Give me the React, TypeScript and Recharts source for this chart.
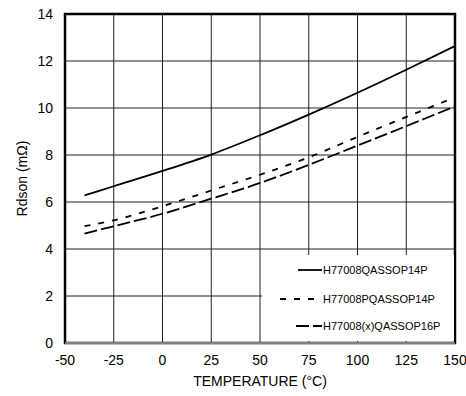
import { LineChart, Line, XAxis, YAxis, CartesianGrid, ReferenceArea, Legend } from 'recharts';

const temps = [-40, -25, 0, 25, 50, 75, 100, 125, 150];
const qassop14 = [6.28, 6.67, 7.32, 8.02, 8.84, 9.72, 10.65, 11.63, 12.64];
const pqassop14 = [4.97, 5.22, 5.82, 6.49, 7.16, 7.9, 8.77, 9.62, 10.45];
const xqassop16 = [4.65, 4.97, 5.5, 6.14, 6.81, 7.58, 8.4, 9.23, 10.07];

const xTicks = [-50, -25, 0, 25, 50, 75, 100, 125, 150];
const yTicks = [0, 2, 4, 6, 8, 10, 12, 14];

const seriesNames = ['H77008QASSOP14P', 'H77008PQASSOP14P', 'H77008(x)QASSOP16P'];

const data = temps.map((t, i) => ({
  t,
  a: qassop14[i],
  b: pqassop14[i],
  c: xqassop16[i],
}));

const FONT = '"Liberation Sans", Arial, sans-serif';

function LegendBox() {
  // sample lines end where the text begins
  const rows = [
    { y: 15, x1: 36, dash: undefined },
    { y: 44, x1: 18, dash: '6 8' },
    { y: 71, x1: 34, dash: '13 4' },
  ];
  return (
    <svg width={192} height={86} style={{ display: 'block' }}>
      <rect x={0} y={0} width={192} height={86} fill="#fff" />
      {rows.map((r, i) => (
        <g key={i}>
          <line x1={r.x1} x2={60} y1={r.y} y2={r.y} stroke="#000" strokeWidth={1.8} strokeDasharray={r.dash} />
          <text x={61} y={r.y} dy="0.36em" fontSize={11} fontFamily={FONT} fill="#000">
            {seriesNames[i]}
          </text>
        </g>
      ))}
    </svg>
  );
}

function YLabel(props: any) {
  const vb = props.viewBox || {};
  const cx = (vb.x || 0) + 27;
  const cy = (vb.y || 0) + (vb.height || 0) / 2;
  return (
    <text x={cx} y={cy} transform={`rotate(-90 ${cx} ${cy})`} textAnchor="middle" fontSize={14} fontFamily={FONT} fill="#000">
      Rdson (mΩ)
    </text>
  );
}

export default function App() {
  const tick = { fontSize: 14, fill: '#000', fontFamily: FONT };
  return (
    <div style={{ position: 'absolute', left: 0, top: 0, background: '#fff' }}>
      <LineChart width={466} height={396} data={data} margin={{ top: 14, right: 11, bottom: 0, left: 0 }}>
        <CartesianGrid stroke="#222" strokeWidth={1} horizontalValues={yTicks} verticalValues={xTicks} />
        <XAxis
          type="number"
          dataKey="t"
          domain={[-50, 150]}
          ticks={xTicks}
          height={53}
          tickSize={0}
          tickMargin={12}
          axisLine={{ stroke: '#808080', strokeWidth: 2 }}
          tick={tick}
          interval={0}
          label={{ value: 'TEMPERATURE (°C)', position: 'insideBottom', offset: 10, fontSize: 14, fill: '#000', fontFamily: FONT }}
        />
        <YAxis
          type="number"
          domain={[0, 14]}
          ticks={yTicks}
          width={65}
          tickSize={0}
          tickMargin={12}
          axisLine={false}
          tick={tick}
          interval={0}
          label={<YLabel />}
        />
        <ReferenceArea x1={-50} x2={150} y1={0} y2={14} fill="none" fillOpacity={0} stroke="#000" strokeWidth={2.5} />
        <Line type="monotone" dataKey="a" stroke="#000" strokeWidth={1.8} dot={false} isAnimationActive={false} />
        <Line type="monotone" dataKey="b" stroke="#000" strokeWidth={1.8} strokeDasharray="6 8" dot={false} isAnimationActive={false} />
        <Line type="monotone" dataKey="c" stroke="#000" strokeWidth={1.8} strokeDasharray="13 4" dot={false} isAnimationActive={false} />
        <Legend
          layout="horizontal"
          verticalAlign="middle"
          align="center"
          content={() => <LegendBox />}
          wrapperStyle={{ position: 'absolute', left: 262, top: 255, width: 192, height: 86 }}
        />
      </LineChart>
    </div>
  );
}
